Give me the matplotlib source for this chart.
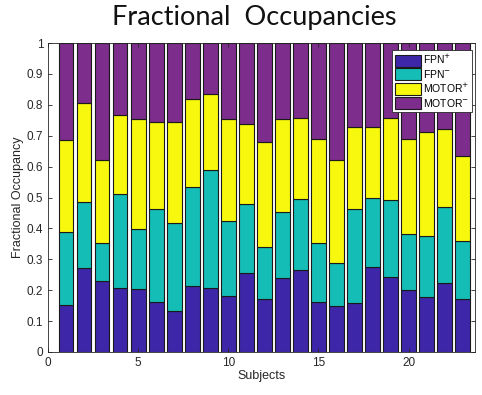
import numpy as np
import matplotlib.pyplot as plt

# Fractional occupancy of each brain state, per subject
subjects = np.arange(1, 24)
fpn_pos = [0.152, 0.272, 0.229, 0.208, 0.205, 0.163, 0.134, 0.213, 0.208, 0.182,
           0.254, 0.173, 0.239, 0.265, 0.163, 0.148, 0.159, 0.275, 0.243, 0.200,
           0.178, 0.223, 0.172]
fpn_neg = [0.236, 0.213, 0.124, 0.302, 0.193, 0.300, 0.285, 0.320, 0.380, 0.242,
           0.226, 0.167, 0.214, 0.229, 0.189, 0.140, 0.304, 0.223, 0.250, 0.183,
           0.196, 0.246, 0.187]
motor_pos = [0.298, 0.321, 0.269, 0.258, 0.357, 0.281, 0.325, 0.287, 0.246, 0.331,
             0.259, 0.340, 0.302, 0.264, 0.336, 0.334, 0.265, 0.230, 0.265, 0.305,
             0.338, 0.252, 0.275]
motor_neg = [1 - a - b - c for a, b, c in zip(fpn_pos, fpn_neg, motor_pos)]

labels = ["FPN$^{+}$", "FPN$^{-}$", "MOTOR$^{+}$", "MOTOR$^{-}$"]
colors = ["#3D26A8", "#14BDB5", "#F8F80E", "#7D2D8C"]

plt.rcParams["font.family"] = ["Liberation Sans", "DejaVu Sans"]

fig = plt.figure(figsize=(4.82, 3.95), dpi=100)
ax = fig.add_axes([0.1, 0.109, 0.886, 0.782])

bottom = np.zeros(len(subjects))
for vals, lab, col in zip([fpn_pos, fpn_neg, motor_pos, motor_neg], labels, colors):
    ax.bar(subjects, vals, width=0.8, bottom=bottom, color=col,
           edgecolor="#1a1a1a", linewidth=0.8, label=lab)
    bottom += np.array(vals)

ax.set_xlim(0, 23.7)
ax.set_ylim(0, 1)
ax.set_xticks([0, 5, 10, 15, 20])
ax.set_yticks(np.arange(0, 1.01, 0.1))
ax.set_yticklabels(["0", "0.1", "0.2", "0.3", "0.4", "0.5", "0.6", "0.7", "0.8", "0.9", "1"])
ax.tick_params(direction="in", length=3, width=0.6, labelsize=8.5,
               colors="#262626", top=True, right=True)
for sp in ax.spines.values():
    sp.set_linewidth(0.6)
    sp.set_color("#262626")

ax.set_xlabel("Subjects", fontsize=9, color="#262626", labelpad=1)
ax.set_ylabel("Fractional Occupancy", fontsize=9, color="#262626", labelpad=2)
fig.text(0.527, 0.955, "Fractional  Occupancies", ha="center", va="center",
         fontsize=19.5, family="Lato", color="#111111")

leg = ax.legend(loc="upper right", bbox_to_anchor=(0.997, 0.985), fontsize=7.5,
                frameon=True, fancybox=False, framealpha=1, handlelength=2.5,
                handleheight=1.4, handletextpad=0.15, borderpad=0.3,
                labelspacing=0.12, borderaxespad=0.2)
leg.get_frame().set_edgecolor("#262626")
leg.get_frame().set_linewidth(0.6)

fig.savefig("out.png", dpi=100)
